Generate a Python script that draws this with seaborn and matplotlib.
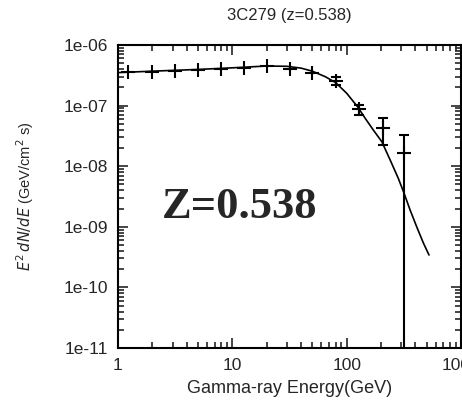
import numpy as np
import pandas as pd
import seaborn as sns
import matplotlib.pyplot as plt
from matplotlib.ticker import LogLocator, FixedLocator, NullFormatter

# measured points
energy = [1.23, 2.0, 3.15, 4.98, 7.95, 12.6, 20.0, 32.0, 50.0, 80.7, 129.0, 207.0, 320.0]
flux = [3.55e-7, 3.63e-7, 3.77e-7, 3.87e-7, 4.02e-7, 4.13e-7, 4.55e-7, 3.97e-7,
        3.41e-7, 2.58e-7, 8.8e-8, 4.2e-8, 1.67e-8]
flux_hi = [3.7e-7, 3.78e-7, 3.92e-7, 4.02e-7, 4.17e-7, 4.3e-7, 4.75e-7, 4.17e-7,
           3.6e-7, 2.93e-7, 1.02e-7, 6.3e-8, 3.3e-8]
flux_lo = [3.4e-7, 3.48e-7, 3.62e-7, 3.72e-7, 3.87e-7, 3.96e-7, 4.35e-7, 3.77e-7,
           3.22e-7, 2.19e-7, 7.0e-8, 2.2e-8, 1e-13]

# model curve
model_e = [1, 2, 5, 10, 20, 30, 40, 50, 65, 80, 100, 125, 145, 171, 203, 240,
           283, 318, 359, 410, 469, 525]
model_f = [3.5e-7, 3.7e-7, 3.95e-7, 4.2e-7, 4.5e-7, 4.45e-7, 4.15e-7, 3.7e-7,
           3.0e-7, 2.4e-7, 1.6e-7, 9.5e-8, 6.2e-8, 3.96e-8, 2.54e-8, 1.27e-8,
           6.3e-9, 3.57e-9, 1.89e-9, 1.0e-9, 5.4e-10, 3.43e-10]

y_ticks = [1e-11, 1e-10, 1e-9, 1e-8, 1e-7, 1e-6]
y_labels = ["1e-11", "1e-10", "1e-09", "1e-08", "1e-07", "1e-06"]
x_ticks = [1, 10, 100, 1000]
x_labels = ["1", "10", "100", "1000"]

sns.set_style("ticks")
plt.rcParams['font.family'] = ['Liberation Sans', 'DejaVu Sans']

fig = plt.figure(figsize=(4.62, 4.05), dpi=100)
ax = fig.add_axes([0.2554, 0.1407, 0.7424, 0.7482])

model = pd.DataFrame({'E': model_e, 'F': model_f})
sns.lineplot(data=model, x='E', y='F', ax=ax, color='black', lw=1.2)

pts = pd.DataFrame({'E': energy, 'F': flux, 'hi': flux_hi, 'lo': flux_lo})
big = (pts['hi'] / pts['lo']) > 1.3
for sub, cap in [(pts[~big], 0), (pts[big], 3.5)]:
    ax.errorbar(sub['E'], sub['F'],
                yerr=[sub['F'] - sub['lo'], sub['hi'] - sub['F']],
                fmt='+', color='black', ms=10, mew=1.5, elinewidth=1.5,
                capsize=cap, capthick=1.5)

ax.set_xscale('log')
ax.set_yscale('log')
ax.set_xlim(1, 1000)
ax.set_ylim(1e-11, 1e-6)

ax.xaxis.set_major_locator(FixedLocator(x_ticks))
ax.set_xticklabels(x_labels)
ax.yaxis.set_major_locator(FixedLocator(y_ticks))
ax.set_yticklabels(y_labels)
ax.xaxis.set_minor_locator(LogLocator(base=10, subs=np.arange(2, 10)))
ax.yaxis.set_minor_locator(LogLocator(base=10, subs=np.arange(2, 10)))
ax.xaxis.set_minor_formatter(NullFormatter())
ax.yaxis.set_minor_formatter(NullFormatter())

ax.tick_params(which='both', direction='in', top=True, right=True, width=1.2)
ax.tick_params(which='major', length=7, labelsize=12.5, pad=7)
ax.tick_params(which='minor', length=4)
for s in ax.spines.values():
    s.set_linewidth(1.5)
    s.set_color('black')

ax.set_title('3C279 (z=0.538)', fontsize=12, pad=18)
ax.set_xlabel('Gamma-ray Energy(GeV)', fontsize=13, labelpad=5)
ax.set_ylabel(r'$E^2\,dN/dE$ (GeV/cm$^2$ s)', fontsize=10.5, labelpad=20)

ax.text(0.356, 0.465, 'Z=0.538', transform=ax.transAxes, ha='center', va='center',
        fontsize=32, fontweight='bold', family='Liberation Serif')

fig.savefig('out.png', dpi=100)
